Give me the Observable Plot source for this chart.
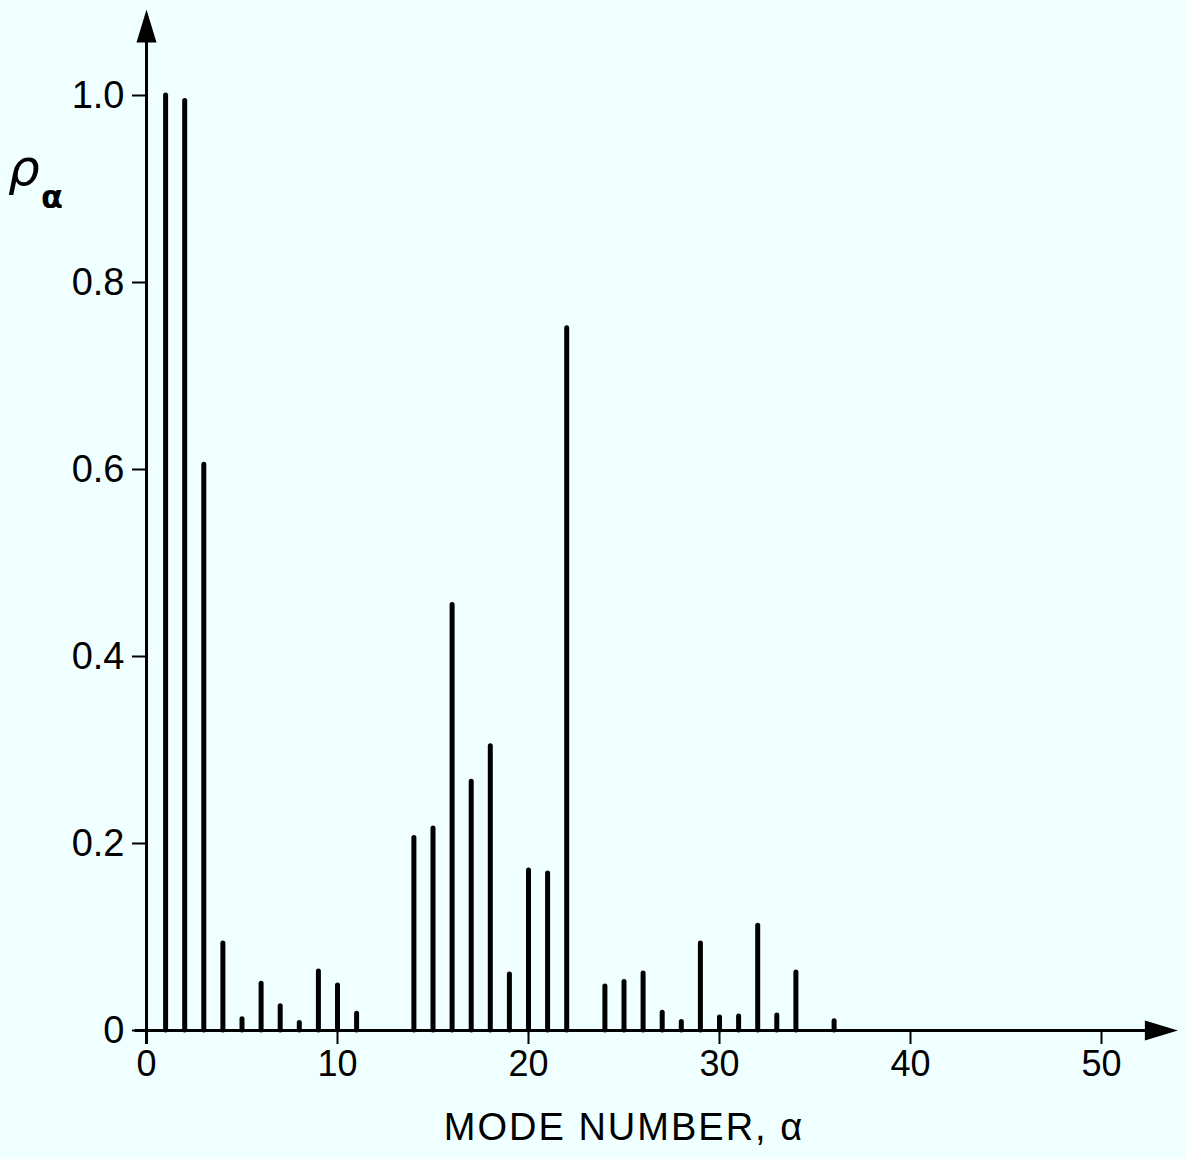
<!DOCTYPE html>
<html>
<head>
<meta charset="utf-8">
<script src="https://cdn.jsdelivr.net/npm/d3@7"></script>
<script src="https://cdn.jsdelivr.net/npm/@observablehq/plot@0.6"></script>
<style>
  html, body { margin: 0; padding: 0; background: #f0ffff; }
  #chart svg { display: block; }
</style>
</head>
<body>
<div id="chart"></div>
<script>
// Mode numbers (alpha) and correlation values (rho_alpha)
const modes = [1, 2, 3, 4, 5, 6, 7, 8, 9, 10, 11, 14, 15, 16, 17, 18, 19, 20, 21, 22, 24, 25, 26, 27, 28, 29, 30, 31, 32, 33, 34, 36];
const rhoValues = [1.0, 0.994, 0.605, 0.093, 0.012, 0.05, 0.026, 0.008, 0.063, 0.048, 0.018, 0.206, 0.216, 0.455, 0.266, 0.304, 0.06, 0.171, 0.168, 0.751, 0.047, 0.052, 0.061, 0.019, 0.009, 0.093, 0.014, 0.015, 0.112, 0.016, 0.062, 0.01];
const xTicks = [0, 10, 20, 30, 40, 50];
const yTicks = [0, 0.2, 0.4, 0.6, 0.8, 1.0];
const xLabel = "MODE NUMBER, α";

const data = modes.map((m, i) => ({mode: m, rho: rhoValues[i]}));

// arrowhead symbols (tip at origin)
const arrowUp = {draw(ctx) { ctx.moveTo(0, 0); ctx.lineTo(-10, 33); ctx.lineTo(10, 33); ctx.closePath(); }};
const arrowRight = {draw(ctx) { ctx.moveTo(0, 0); ctx.lineTo(-33, -10); ctx.lineTo(-33, 10); ctx.closePath(); }};

const font = "'Liberation Sans', Arial, Helvetica, sans-serif";

const chart = Plot.plot({
  width: 1186,
  height: 1159,
  marginLeft: 146,
  marginRight: 85,
  marginTop: 95,
  marginBottom: 129,
  style: {background: "#f0ffff", fontFamily: font, color: "black"},
  x: {domain: [0, 50]},
  y: {domain: [0, 1]},
  marks: [
    Plot.axisY({ticks: yTicks, tickFormat: d => d === 0 ? "0" : d.toFixed(1), tickSize: 14, tickPadding: 8, fontSize: 38, label: null, strokeWidth: 2}),
    Plot.axisX({ticks: xTicks, tickSize: 14, tickPadding: 6, fontSize: 36, label: null, strokeWidth: 2}),
    Plot.ruleY([0], {x1: -0.6, x2: 53, strokeWidth: 3}),
    Plot.ruleX([0], {y1: -0.015, y2: 1.06, strokeWidth: 3}),
    Plot.dot([0], {x: 0, y: 1.092, symbol: arrowUp, fill: "black", stroke: "none"}),
    Plot.dot([0], {x: 54.0, y: 0, symbol: arrowRight, fill: "black", stroke: "none"}),
    Plot.ruleX(data, {x: "mode", y1: 0, y2: "rho", strokeWidth: 5, strokeLinecap: "round"}),
    Plot.text([xLabel], {text: d => d, frameAnchor: "bottom", lineAnchor: "middle", dy: 97, fontSize: 38, fill: "black", className: "xlab"})
  ]
});

const svg = d3.select(chart);
svg.selectAll(".xlab text").style("letter-spacing", "2px");

// y-axis symbol label rho_alpha
svg.append("text")
  .attr("x", 8).attr("y", 185)
  .attr("text-anchor", "start")
  .attr("font-family", "'DejaVu Sans', sans-serif")
  .attr("font-style", "italic")
  .attr("font-size", 50)
  .attr("fill", "black")
  .text("ρ");
svg.append("text")
  .attr("x", 41).attr("y", 208)
  .attr("text-anchor", "start")
  .attr("font-family", "'DejaVu Sans', sans-serif")
  .attr("font-size", 32)
  .attr("font-weight", "bold")
  .attr("fill", "black")
  .text("α");

document.getElementById("chart").appendChild(chart);
</script>
</body>
</html>
